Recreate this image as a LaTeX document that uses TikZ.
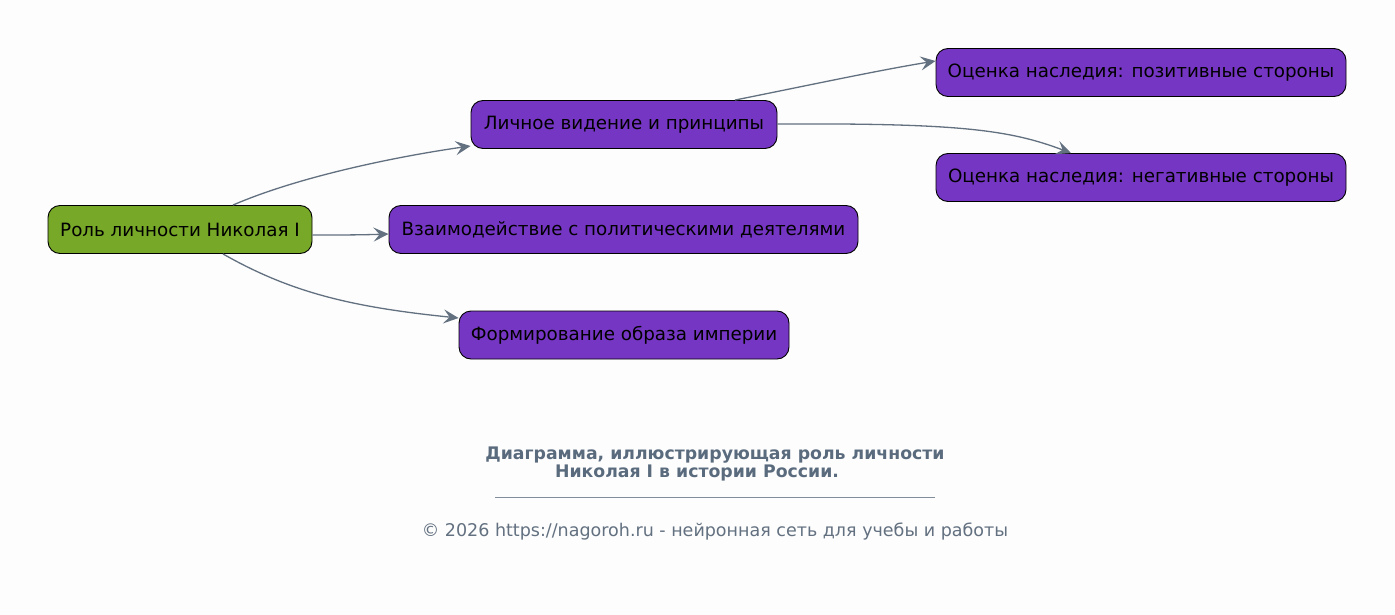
\documentclass[tikz,border=0pt]{standalone}
\usepackage{fontspec}
\setmainfont{DejaVu Sans}
\usetikzlibrary{arrows.meta}
\definecolor{bg}{HTML}{FDFDFD}
\definecolor{rootc}{HTML}{77A828}
\definecolor{leafc}{HTML}{7636C4}
\definecolor{edgec}{HTML}{627080}
\definecolor{titlec}{HTML}{5A6B7E}
\tikzset{
  box/.style={draw=black, line width=0.9pt, rounded corners=12pt, minimum height=48pt, inner xsep=0pt, font=\fontsize{18.3}{22}\selectfont, text=black},
  rootbox/.style={box, fill=rootc},
  leafbox/.style={box, fill=leafc},
  link/.style={draw=edgec, line width=1.3pt, -{Stealth[length=15pt, width=14pt, inset=6pt]}},
}
\begin{document}
\begin{tikzpicture}[x=1pt, y=-1pt]
\fill[bg] (0,0) rectangle (1395,615);
\useasboundingbox (0,0) rectangle (1395,615);
\node[rootbox, minimum width=264pt] (root) at (180,229.5) {Роль личности Николая I};
\node[leafbox, minimum width=306pt] (vis) at (624,124.5) {Личное видение и принципы};
\node[leafbox, minimum width=469pt] (vz) at (623.5,229.5) {Взаимодействие с политическими деятелями};
\node[leafbox, minimum width=330pt] (form) at (624,335) {Формирование образа империи};
\node[leafbox, minimum width=410pt] (pos) at (1141,72.5) {Оценка наследия: позитивные стороны};
\node[leafbox, minimum width=410pt] (neg) at (1141,177.5) {Оценка наследия: негативные стороны};
\coordinate (r1) at ([xshift=53pt]root.north);
\coordinate (r3) at ([xshift=43pt]root.south);
\coordinate (v1) at ([xshift=111pt]vis.north);
\coordinate (n1) at ([xshift=-70pt]neg.north);
\draw[link] (r1) .. controls (300,176) and (400,156) .. (vis.west|-0,146);
\draw[link] (root.east|-0,235) .. controls (340,235) and (360,235) .. (vz.west|-0,234);
\draw[link] (r3) .. controls (290,292) and (350,307) .. (form.west|-0,318);
\draw[link] (v1) .. controls (810,85) and (880,70) .. (pos.west|-0,61);
\draw[link] (vis.east|-0,124) .. controls (960,123) and (1010,130) .. (n1);
\node[text=titlec, font=\bfseries\fontsize{17.3}{20}\selectfont] (t1) at (715,455.5) {Диаграмма, иллюстрирующая роль личности};
\node[text=titlec, font=\bfseries\fontsize{17.3}{20}\selectfont] (t2) at (697,472.5) {Николая I в истории России.};
\coordinate (la) at (495,497);
\coordinate (lb) at (935,497);
\draw[edgec!80, line width=0.6pt] (la) -- (lb);
\node[text=edgec, font=\fontsize{17.5}{21}\selectfont] (copy) at (715,531.5) {© 2026 https://nagoroh.ru - нейронная сеть для учебы и работы};
\end{tikzpicture}
\end{document}
